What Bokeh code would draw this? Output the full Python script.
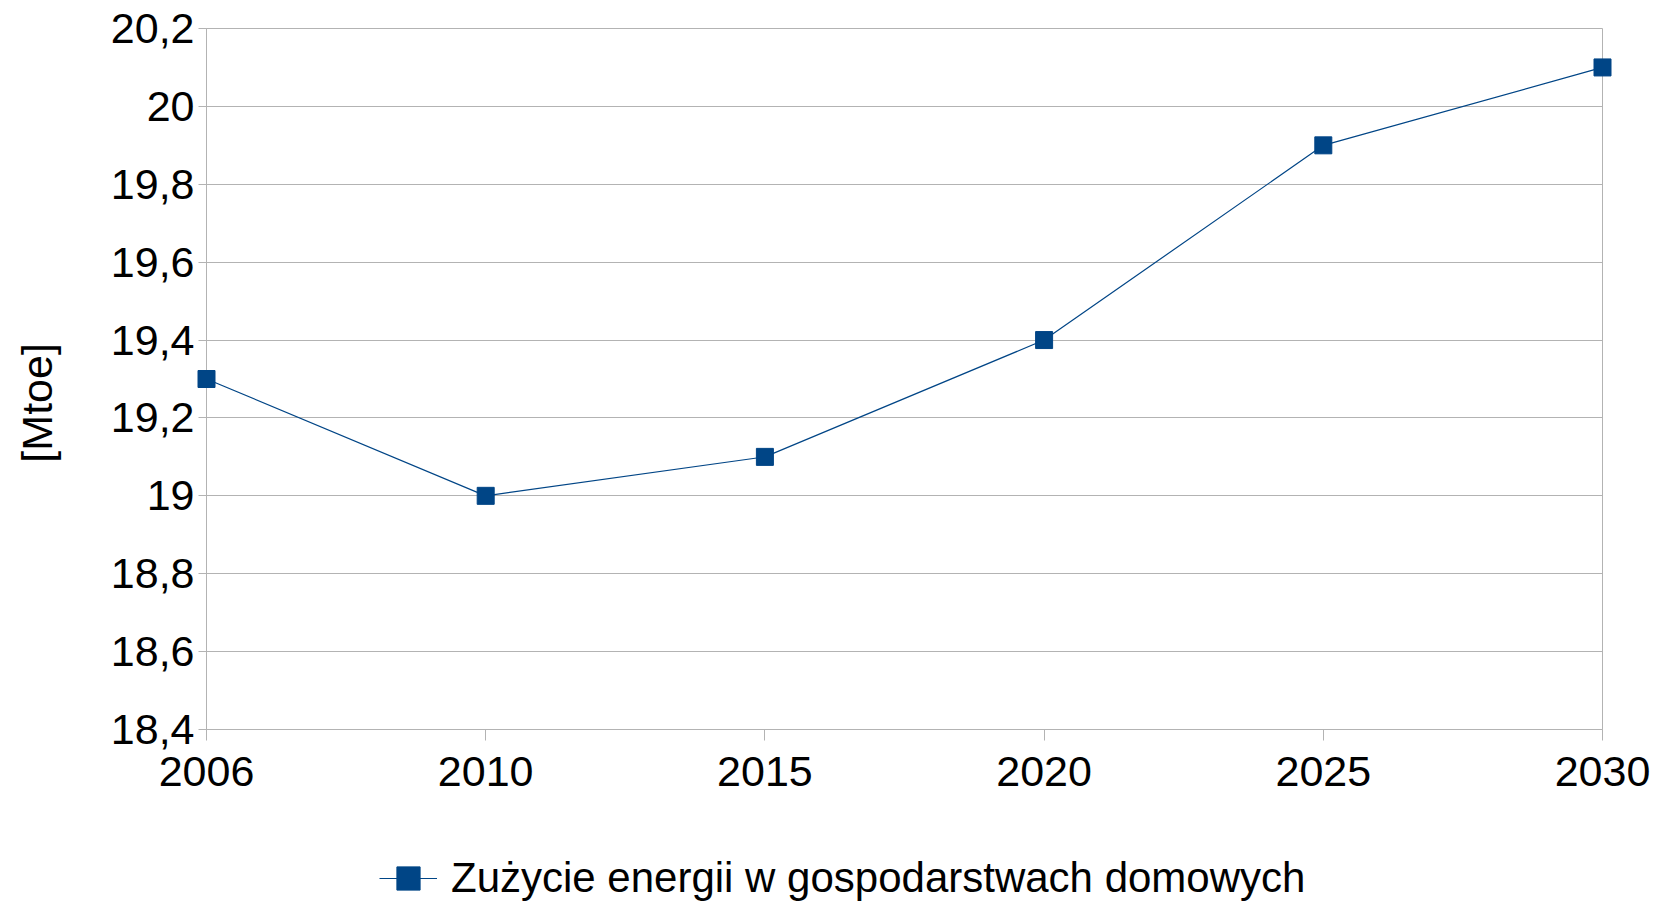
from bokeh.plotting import figure
from bokeh.layouts import column
from bokeh.models import Range1d, FixedTicker, CustomJSTickFormatter, Legend, LegendItem
from bokeh.embed import file_html
from bokeh.resources import INLINE

years = ["2006", "2010", "2015", "2020", "2025", "2030"]
values = [19.3, 19.0, 19.1, 19.4, 19.9, 20.1]
y_ticks = [18.4, 18.6, 18.8, 19.0, 19.2, 19.4, 19.6, 19.8, 20.0, 20.2]
series_name = "Zużycie energii w gospodarstwach domowych"
y_title = "[Mtoe]"

FONT = "Liberation Sans"
FS = "43px"
COLOR = "#004586"
GRID = "#b3b3b3"

xs = list(range(len(years)))

p = figure(width=1663, height=810, output_backend="svg", toolbar_location=None,
           x_range=Range1d(0, len(years) - 1), y_range=Range1d(y_ticks[0], y_ticks[-1]),
           min_border_left=206, min_border_right=61, min_border_top=28, min_border_bottom=81)
p.background_fill_color = "white"
p.border_fill_color = "white"
p.outline_line_color = GRID
p.outline_line_width = 1

r_line = p.line(xs, values, line_color=COLOR, line_width=1.2)
r_pts = p.scatter(xs, values, marker="square", size=17, fill_color=COLOR, line_color=COLOR,
                  level="overlay")

p.xaxis.ticker = FixedTicker(ticks=xs)
p.xaxis.major_label_overrides = {i: y for i, y in enumerate(years)}
p.yaxis.ticker = FixedTicker(ticks=y_ticks)
p.yaxis.formatter = CustomJSTickFormatter(code="""
    var s = tick.toFixed(1);
    if (s.endsWith('.0')) { s = s.slice(0, -2); }
    return s.replace('.', ',');
""")

for ax in (p.xaxis[0], p.yaxis[0]):
    ax.axis_line_color = GRID
    ax.major_tick_line_color = GRID
    ax.minor_tick_line_color = None
    ax.major_tick_in = 0
    ax.major_label_text_font = FONT
    ax.major_label_text_font_size = FS
    ax.major_label_text_color = "black"

p.xaxis.major_tick_out = 11
p.xaxis.major_label_standoff = 16
p.yaxis.major_tick_out = 8
p.yaxis.major_label_standoff = 4

# trailing no-break spaces shift the centred, rotated title slightly downwards
p.yaxis.axis_label = y_title + "\u00a0" * 4
p.yaxis.axis_label_text_font = FONT
p.yaxis.axis_label_text_font_size = FS
p.yaxis.axis_label_text_font_style = "normal"
p.yaxis.axis_label_text_color = "black"
p.yaxis.axis_label_standoff = 47

p.xgrid.grid_line_color = None
p.ygrid.grid_line_color = GRID
p.ygrid.grid_line_width = 1

# legend strip below the chart (its renderers sit outside the visible ranges)
p2 = figure(width=1663, height=92, output_backend="svg", toolbar_location=None,
            x_range=Range1d(-100, -99), y_range=Range1d(0, 1),
            x_axis_location=None, y_axis_location=None,
            min_border_left=0, min_border_right=0, min_border_top=0, min_border_bottom=0)
p2.outline_line_color = None
p2.grid.grid_line_color = None
p2.background_fill_color = "white"
p2.border_fill_color = "white"
l_line = p2.line(xs, values, line_color=COLOR, line_width=1.2)
l_pts = p2.scatter(xs, values, marker="square", size=17, fill_color=COLOR, line_color=COLOR)

legend = Legend(items=[LegendItem(label=series_name, renderers=[l_line, l_pts])],
                location=(173, -5), orientation="horizontal",
                glyph_width=58, glyph_height=58, label_standoff=14,
                label_text_font=FONT, label_text_font_size="42px", label_text_color="black",
                padding=0, margin=0, spacing=0,
                border_line_color=None, background_fill_alpha=0)
p2.add_layout(legend)

layout = column(p, p2, spacing=0)
open("out.html", "w").write(file_html(layout, INLINE))
